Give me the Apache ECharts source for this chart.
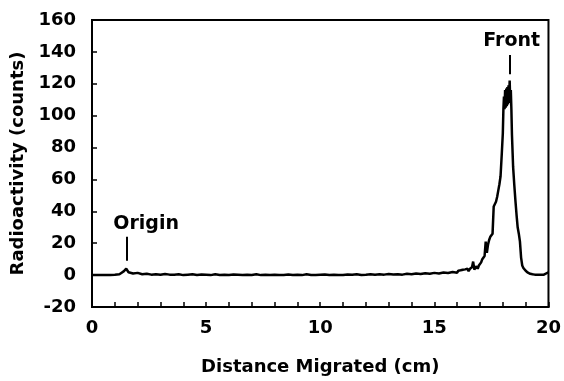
<!DOCTYPE html>
<html>
<head>
<meta charset="utf-8">
<script src="https://cdn.jsdelivr.net/npm/echarts@6/dist/echarts.min.js"></script>
<style>
html,body{margin:0;padding:0;background:#fff;}
#chart{width:564px;height:381px;}
</style>
</head>
<body>
<div id="chart"></div>
<script>
// Distance migrated (cm)
var distance = [
  0.0,0.2,0.4,0.6,0.8,1.0,1.2,1.3,1.4,1.5,1.6,1.8,2.0,2.2,2.4,2.6,2.8,3.0,3.2,3.4,3.6,3.8,
  4.0,4.2,4.4,4.6,4.8,5.0,5.2,5.4,5.6,5.8,6.0,6.2,6.4,6.6,6.8,7.0,7.2,7.4,7.6,7.8,
  8.0,8.2,8.4,8.6,8.8,9.0,9.2,9.4,9.6,9.8,10.0,10.2,10.4,10.6,10.8,11.0,11.2,11.4,11.6,11.8,
  12.0,12.2,12.4,12.6,12.8,13.0,13.2,13.4,13.6,13.8,14.0,14.2,14.4,14.6,14.8,15.0,15.2,15.4,15.6,15.8,
  16.0,16.05,16.1,16.15,16.2,16.25,16.3,16.35,16.4,16.45,16.5,16.55,16.6,16.65,16.7,16.75,16.8,16.85,16.9,16.95,
  17.0,17.05,17.1,17.15,17.2,17.25,17.3,17.35,17.4,17.45,17.5,17.55,17.6,17.65,17.7,17.75,17.8,17.85,17.9,17.95,
  18.0,18.025,18.05,18.075,18.1,18.125,18.15,18.175,18.2,18.225,18.25,18.275,18.3,18.325,18.35,18.375,
  18.4,18.45,18.5,18.55,18.6,18.65,18.7,18.75,18.8,18.85,18.9,18.95,
  19.0,19.1,19.2,19.3,19.4,19.6,19.8,20.0
];
// Radioactivity (counts)
var counts = [
  0,0,0,0,0,0.2,0.5,1.5,2.5,4.0,1.8,1.0,1.4,0.5,0.9,0.3,0.6,0.2,0.7,0.3,0.2,0.5,
  0,0.3,0.6,0.1,0.4,0.2,0,0.5,0.1,0.3,0,0.4,0.2,0,0.3,0.1,0.5,0,0.2,0,
  0.3,0,0.1,0.4,0,0.2,0,0.5,0.1,0,0.2,0.4,0,0.3,0.1,0,0.4,0.2,0.5,0.1,
  0.3,0.6,0.2,0.5,0.3,0.7,0.4,0.6,0.3,0.8,0.5,1.0,0.7,1.2,0.9,1.4,1.0,1.6,1.3,1.9,
  1.5,2.8,1.6,3.0,1.8,3.4,2.2,3.6,2.4,4.0,2.5,3.8,3.0,5.0,8.5,3.5,4.5,5.5,4.0,6.0,
  5.0,8.0,10,9,12,21,14,19,22,24,25,26,43,42,46,49,53,57,62,75,
  89,104,112,104,116,105,117,106,118,107,119,110,122,108,116,104,
  88,68,57,47,38,30,26,21,11,6,4.5,3.5,
  2.7,1.5,0.8,0.5,0.3,0.2,0.3,1.8
];
// Annotations
var annoNames = ['Origin', 'Front'];
var annoTextX = [2.37, 18.39];
var annoTextY = [32, 146.5];
var annoTickX = [1.51, 18.29];
var annoTickTop = [24, 138];
var annoTickBottom = [9, 126];

// Axis ticks: x has a tick every 1 cm, labelled every 5 cm
var xTicks = {min: 0, max: 20, tickStep: 1, labelStep: 5};
var yTicks = {min: -20, max: 160, interval: 20};

var FONT = '"DejaVu Sans", Verdana, sans-serif';
var pts = distance.map(function (d, i) { return [d, counts[i]]; });

var chart = echarts.init(document.getElementById('chart'), null, {renderer: 'canvas'});
chart.setOption({
  animation: false,
  backgroundColor: '#fff',
  grid: {left: 92, right: 13, top: 20, bottom: 69, show: true, borderColor: '#000', borderWidth: 2, backgroundColor: 'transparent'},
  xAxis: {
    type: 'value', min: xTicks.min, max: xTicks.max, interval: xTicks.tickStep,
    name: 'Distance Migrated (cm)', nameLocation: 'middle', nameGap: 51,
    nameTextStyle: {fontFamily: FONT, fontWeight: 'bold', fontSize: 18, color: '#000'},
    axisLine: {show: true, onZero: false, lineStyle: {color: '#000', width: 2}},
    axisTick: {show: true, inside: true, length: 5, lineStyle: {color: '#000', width: 1.5}},
    axisLabel: {
      fontFamily: FONT, fontWeight: 'bold', fontSize: 18, color: '#000', margin: 12,
      formatter: function (v) { return (Math.round(v) % xTicks.labelStep === 0) ? String(Math.round(v)) : ''; }
    },
    splitLine: {show: false}
  },
  yAxis: {
    type: 'value', min: yTicks.min, max: yTicks.max, interval: yTicks.interval,
    name: 'Radioactivity (counts)', nameLocation: 'middle', nameGap: 61,
    nameTextStyle: {fontFamily: FONT, fontWeight: 'bold', fontSize: 18, color: '#000'},
    axisLine: {show: true, onZero: false, lineStyle: {color: '#000', width: 2}},
    axisTick: {show: true, inside: true, length: 5, lineStyle: {color: '#000', width: 1.5}},
    axisLabel: {fontFamily: FONT, fontWeight: 'bold', fontSize: 18, color: '#000', margin: 16},
    splitLine: {show: false}
  },
  series: [{
    type: 'line',
    data: pts,
    showSymbol: false,
    symbol: 'none',
    lineStyle: {color: '#000', width: 2.5},
    markLine: {
      silent: true, symbol: 'none', animation: false,
      lineStyle: {color: '#000', width: 2, type: 'solid'},
      label: {show: false},
      data: annoNames.map(function (n, i) {
        return [{coord: [annoTickX[i], annoTickTop[i]]}, {coord: [annoTickX[i], annoTickBottom[i]]}];
      })
    },
    markPoint: {
      silent: true, symbol: 'circle', symbolSize: 0, animation: false,
      label: {show: true, position: 'inside', formatter: '{b}', fontFamily: FONT, fontWeight: 'bold', fontSize: 19, color: '#000'},
      data: annoNames.map(function (n, i) {
        return {name: n, coord: [annoTextX[i], annoTextY[i]]};
      })
    }
  }]
});
</script>
</body>
</html>
